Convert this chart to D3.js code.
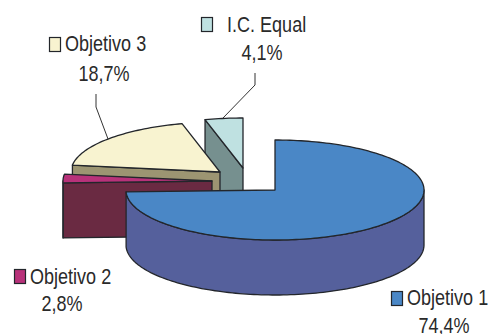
<!DOCTYPE html>
<html><head><meta charset="utf-8">
<script src="https://cdn.jsdelivr.net/npm/d3@7"></script>
<style>html,body{margin:0;padding:0;background:#fff;overflow:hidden}svg{display:block}
text{font-family:"Liberation Sans",sans-serif;font-size:22px;fill:#2a2a2a}</style>
</head><body><script>
const categories = ["Objetivo 1","Objetivo 2","Objetivo 3","I.C. Equal"];
const values = [74.4,2.8,18.7,4.1];
const valueLabels = ["74,4%","2,8%","18,7%","4,1%"];
const topColors = ["#4a87c6","#b8327a","#f8f3d0","#bfe1e1"];
const sideColors = ["#55609c","#6a2a42","#9c9572","#76908f"];

const W=488,H=334,cx=275,cy=190,rx=149,ry=50,depth=55,edge="#23262b",narrow=0.82;
const explode=[[0,0],[-63,-9],[-55,-18],[-32,-22]];
const drawOrder=[3,2,1,0];
const labelLayout=[
 {sq:[391,291],tx:407,ty:305,cxv:444,vy:333},
 {sq:[14,269],tx:30,ty:284,cxv:62,vy:311},
 {sq:[49,37],tx:65,ty:51,cxv:104,vy:81},
 {sq:[201,17],tx:227,ty:32,cxv:262,vy:60}];
const leaders=[null,null,[[96,94],[96,107],[108,139]],[[255,73],[255,85],[223,118]]];

const svg=d3.select("body").append("svg").attr("width",W).attr("height",H);
const arcs=d3.pie().sort(null).value(d=>d)(values);
const px=(a,o,dy=0)=>[cx+o[0]+rx*Math.sin(a),cy+o[1]-ry*Math.cos(a)+dy];
const line=d3.line();
const sweep=(a0,a1,o,dy=0)=>{const n=Math.max(2,Math.ceil(Math.abs(a1-a0)*40));
  return d3.range(n+1).map(i=>px(a0+(a1-a0)*i/n,o,dy));};
const shape=(pts,fill)=>svg.append("path").attr("d",line(pts)+"Z").attr("fill",fill)
  .attr("stroke",edge).attr("stroke-width",1.3).attr("stroke-linejoin","round");

drawOrder.forEach(i=>{
  const {startAngle:a0,endAngle:a1}=arcs[i],o=explode[i];
  const apex=[cx+o[0],cy+o[1]],low=[apex[0],apex[1]+depth];
  const side=sideColors[i];
  if(i!==0){const p=px(a0,o);
    shape([apex,low,[p[0],p[1]+depth],p],side);}
  const w0=Math.max(a0,Math.PI/2),w1=Math.min(a1,1.5*Math.PI);
  if(w1>w0) shape([...sweep(w0,w1,o),...sweep(w1,w0,o,depth)],side);
  shape([apex,...sweep(a0,a1,o)],topColors[i]);
});

leaders.forEach(l=>{if(l)svg.append("path").attr("d",line(l)).attr("fill","none").attr("stroke","#333").attr("stroke-width",1);});

const label=(x,y,t,mid)=>svg.append("text")
  .attr("transform",`translate(${x},${y}) scale(${narrow},1)`)
  .attr("text-anchor",mid?"middle":"start").text(t);
categories.forEach((c,i)=>{
  const L=labelLayout[i];
  svg.append("rect").attr("x",L.sq[0]+.5).attr("y",L.sq[1]+.5).attr("width",11).attr("height",14)
    .attr("fill",topColors[i]).attr("stroke",edge).attr("stroke-width",1.2);
  label(L.tx,L.ty,c,false);
  label(L.cxv,L.vy,valueLabels[i],true);
});
</script></body></html>
